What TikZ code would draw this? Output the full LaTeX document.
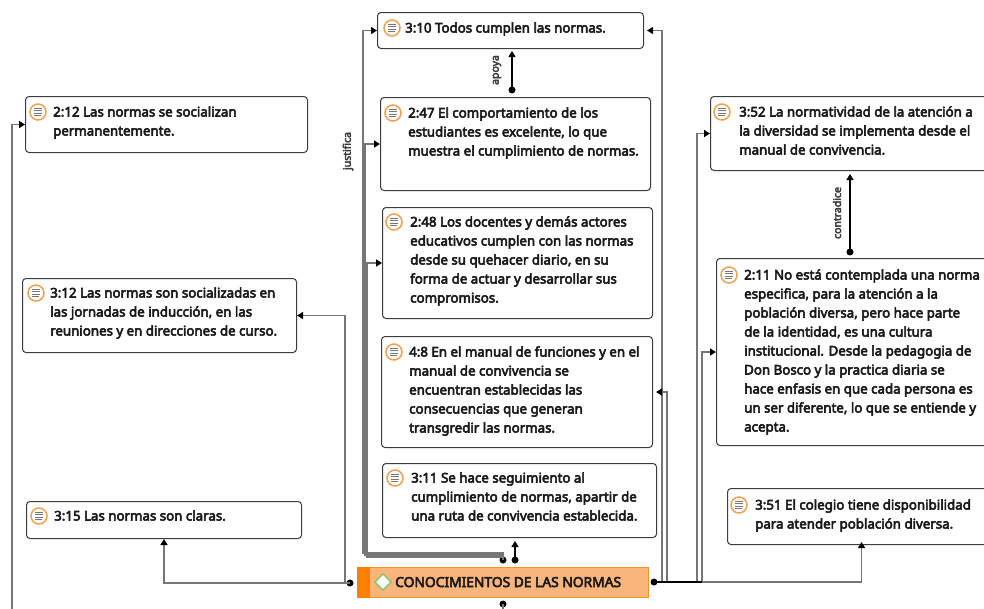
\documentclass[tikz,border=0pt]{standalone}
\usepackage{fontspec}
\newfontfamily\nfont{Noto Sans}[FakeBold=4]
\usetikzlibrary{arrows.meta}
\definecolor{boxc}{HTML}{3C3C3C}
\definecolor{txtc}{HTML}{1A1A1A}
\definecolor{linec}{HTML}{767676}
\definecolor{iconc}{HTML}{F0A050}
\definecolor{mainfill}{HTML}{FAB57C}
\definecolor{mainbar}{HTML}{FF7F00}
\definecolor{mainborder}{HTML}{F7941D}
\definecolor{diamc}{HTML}{7DC36B}
\newcommand\mylines[1]{\vtop{\baselineskip=19pt\lineskiplimit=-20pt\halign{##\hfil\cr#1\crcr}}}
\tikzset{
  box/.style={draw=boxc, line width=1pt, rounded corners=3.5pt, fill=white, inner sep=0pt, anchor=north west},
  txt/.style={anchor=base west, inner sep=0pt, text=txtc, font=\nfont\fontsize{13.3}{19}\selectfont},
  lbl/.style={inner sep=0pt, text=txtc!85, font=\nfont\fontsize{10.5}{12}\selectfont},
  dot/.style={circle, fill=black, inner sep=0pt, minimum size=7pt},
  tip/.style={-{Triangle[length=6pt,width=7pt,color=black]}},
  conn/.style={draw=linec, line width=1.6pt, tip},
  bconn/.style={draw=black, line width=1.4pt, tip},
  noteicon/.pic={
    \draw[draw=iconc, line width=1.5pt, fill=white] (0,0) circle[radius=8pt];
    \foreach \yy/\ll in {-3.3/4.2,-1.1/4.2,1.1/4.2,3.3/3}
      \draw[linec, line width=1pt] (-4.2,\yy) -- (\ll,\yy);
  }
}
\begin{document}
\begin{tikzpicture}[x=1pt,y=-1pt]
\useasboundingbox (0,0) rectangle (984,608);
\clip (0,0) rectangle (984,608);
\fill[white] (0,0) rectangle (984,608);

% ---------- boxes ----------
\node[box, minimum width=266pt, minimum height=36pt] (b310) at (377,12) {};
\node[box, minimum width=270pt, minimum height=93pt] (b247) at (380,97) {};
\node[box, minimum width=270pt, minimum height=111pt] (b248) at (382,207) {};
\node[box, minimum width=271pt, minimum height=111pt] (b48) at (381,336) {};
\node[box, minimum width=274pt, minimum height=74pt] (b311) at (382,463) {};
\node[box, minimum width=282pt, minimum height=56pt] (b212) at (25,96) {};
\node[box, minimum width=274pt, minimum height=74pt] (b312) at (22,278) {};
\node[box, minimum width=275pt, minimum height=37pt] (b315) at (26,501) {};
\node[box, minimum width=290pt, minimum height=74pt] (b352) at (710,96) {};
\node[box, minimum width=290pt, minimum height=187pt] (b211) at (716,258) {};
\node[box, minimum width=268pt, minimum height=56pt] (b351) at (727,488) {};

% ---------- icons ----------
\foreach \ix/\iy in {392/28,393/113,394/222,394/352,395/478,38/112,36/293,39/516,722/112,729/275,739/505}
  \pic at (\ix,\iy) {noteicon};

% ---------- texts ----------
\node[txt] (t310) at (405,32.5) {\mylines{3:10 Todos cumplen las normas.}};
\node[txt] (t247) at (408,117.5) {\mylines{2:47 El comportamiento de los\cr estudiantes es excelente, lo que\cr muestra el cumplimiento de normas.}};
\node[txt] (t248) at (410,226.5) {\mylines{2:48 Los docentes y demás actores\cr educativos cumplen con las normas\cr desde su quehacer diario, en su\cr forma de actuar y desarrollar sus\cr compromisos.}};
\node[txt] (t48) at (409,356.5) {\mylines{4:8 En el manual de funciones y en el\cr manual de convivencia se\cr encuentran establecidas las\cr consecuencias que generan\cr transgredir las normas.}};
\node[txt] (t311) at (411,482.5) {\mylines{3:11 Se hace seguimiento al\cr cumplimiento de normas, apartir de\cr una ruta de convivencia establecida.}};
\node[txt] (t212) at (53,116.5) {\mylines{2:12 Las normas se socializan\cr permanentemente.}};
\node[txt] (t312) at (50,297.5) {\mylines{3:12 Las normas son socializadas en\cr las jornadas de inducción, en las\cr reuniones y en direcciones de curso.}};
\node[txt] (t315) at (54,520.5) {\mylines{3:15 Las normas son claras.}};
\node[txt] (t352) at (739,116.5) {\mylines{3:52 La normatividad de la atención a\cr la diversidad se implementa desde el\cr manual de convivencia.}};
\node[txt] (t211) at (744,279.5) {\mylines{2:11 No está contemplada una norma\cr especifica, para la atención a la\cr población diversa, pero hace parte\cr de la identidad, es una cultura\cr institucional. Desde la pedagogia de\cr Don Bosco y la practica diaria se\cr hace enfasis en que cada persona es\cr un ser diferente, lo que se entiende y\cr acepta.}};
\node[txt] (t351) at (755,509.5) {\mylines{3:51 El colegio tiene disponibilidad\cr para atender población diversa.}};

% ---------- central node ----------
\node[draw=mainborder, fill=mainfill, line width=0.8pt, inner sep=0pt, anchor=north west,
      minimum width=291pt, minimum height=30pt] (main) at (357,567) {};
\fill[mainbar] (main.north west) rectangle ([xshift=13pt]main.south west);
\draw[draw=diamc, fill=white, line width=1.3pt] (383,574) -- (391,582) -- (383,590) -- (375,582) -- cycle;
\node[anchor=base west, inner sep=0pt, text=txtc, font=\nfont\fontsize{13.8}{16}\selectfont] (tmain) at (395,587) {CONOCIMIENTOS DE LAS NORMAS};

% ---------- connection dots ----------
\node[dot] (dL) at (350,583) {};
\node[dot] (dR) at (654,582) {};
\node[dot] (dT1) at (503,560) {};
\node[dot] (dT2) at (515,560) {};
\node[dot] (dB) at (503,604) {};
\node[dot] (dA) at (512,90) {};
\node[dot] (dC) at (850,252) {};

% ---------- left connectors ----------
\draw[conn] (dL.center) -| (b315.south);
\draw[conn] (dL.center) -- (345,583) |- (b312.east);
\draw[conn] (dB.center) -- (503,640) -- (12,640) |- (b212.west);

% ---------- justifica ----------
\draw[conn] (dT1.center) -- (503,553) -- (363,553) |- (b310.west);
\draw[conn] (dT1.center) -- (503,555) -- (365,555) |- (b247.west);
\draw[conn] (dT1.center) -- (503,557) -- (367,557) |- (b248.west);
\node[lbl, rotate=90] (ljust) at (348,151) {justifica};

% ---------- 3:11 ----------
\draw[bconn] (dT2.center) -- ([yshift=-3pt]dT2.center |- b311.south);

% ---------- apoya ----------
\draw[bconn] (dA.center) -- ([yshift=-2pt]dA.center |- b310.south);
\node[lbl, rotate=90] (lapoya) at (497,70) {apoya};

% ---------- contradice ----------
\draw[bconn] (dC.center) -- ([yshift=-3pt]dC.center |- b352.south);
\node[lbl, rotate=90] (lcontra) at (837,213) {contradice};

% ---------- right connectors ----------
\draw[conn] (dR.center) -- (662,582) |- ([xshift=3pt]b310.east);
\draw[conn] (dR.center) -- (667,582) |- ([xshift=3pt]b48.east);
\draw[conn] (dR.center) -- (697,582) |- (b352.west);
\draw[conn] (dR.center) -- (702,582) |- (b211.west);
\draw[conn] (dR.center) -| ([yshift=3pt]b351.south);
\draw[black, line width=1.6pt] (dR.center) -- (702,582);
\end{tikzpicture}
\end{document}
